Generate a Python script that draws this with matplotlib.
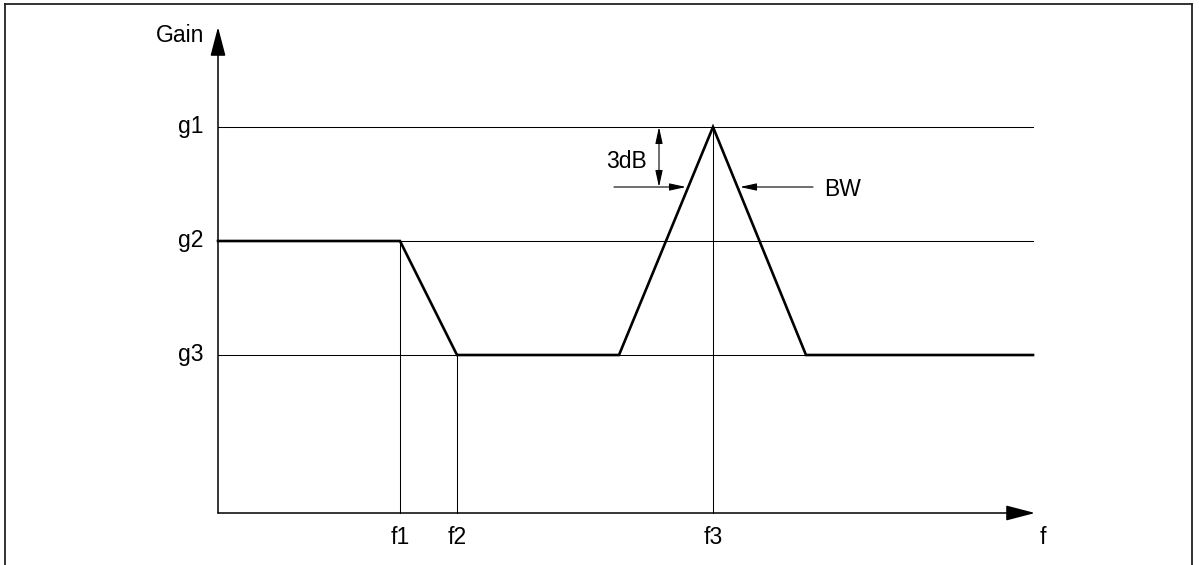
import matplotlib
matplotlib.use("Agg")
import matplotlib.pyplot as plt
from matplotlib.lines import Line2D

plt.rcParams['font.family'] = ['Liberation Sans', 'DejaVu Sans']

# gain levels (axis units)
gain_names = ['g1', 'g2', 'g3']
gain_vals = [3.86, 2.72, 1.58]

# frequency marks (axis units)
freq_names = ['f1', 'f2', 'f3']
freq_vals = [18.2, 23.9, 49.5]
freq_tops = [2.72, 1.58, 3.86]

# response curve breakpoints
curve_f = [0.0, 18.2, 23.9, 40.1, 49.5, 58.8, 81.5]
curve_g = [2.72, 2.72, 1.58, 1.58, 3.86, 1.58, 1.58]

# 3dB point / bandwidth
bw_level = 3.26
x_end = 81.5
fs = 16.5

fig = plt.figure(figsize=(11.99, 5.65), dpi=100)
ax = fig.add_axes([0, 0, 1, 1])
ax.set_xlim(-21.8, 98.1)
ax.set_ylim(-0.52, 5.13)
ax.axis('off')

# frame around the drawing (no bottom edge)
for xs, ys in [([5, 5], [0, 561]), ([5, 1192], [561, 561]), ([1192, 1192], [0, 561])]:
    fig.add_artist(Line2D([x / 1199 for x in xs], [y / 565 for y in ys],
                          color='#222222', lw=1.3))

# horizontal gain lines
for name, g in zip(gain_names, gain_vals):
    ax.plot([0, x_end], [g, g], color='black', lw=0.75)
    ax.text(-1.5, g, name, ha='right', va='center', fontsize=fs)

# vertical frequency lines, up to the curve
for name, f, top in zip(freq_names, freq_vals, freq_tops):
    ax.plot([f, f], [0, top], color='black', lw=0.75)
    ax.text(f, -0.24, name, ha='center', va='center', fontsize=fs)

# response curve
ax.plot(curve_f, curve_g, color='black', lw=1.9, solid_joinstyle='miter')

# axes with arrows
big = dict(arrowstyle='-|>,head_length=1.8,head_width=0.47', mutation_scale=10,
           lw=1.1, color='black', shrinkA=0, shrinkB=0)
ax.annotate('', xy=(0, 4.86), xytext=(0, 0), arrowprops=big)
ax.annotate('', xy=(81.7, 0), xytext=(0, 0), arrowprops=big)
ax.text(-1.4, 4.78, 'Gain', ha='right', va='center', fontsize=fs)
ax.text(82.5, -0.24, 'f', ha='center', va='center', fontsize=fs)

# 3dB marker
small = dict(arrowstyle='<|-|>,head_length=1.0,head_width=0.22', mutation_scale=10,
             lw=0.8, color='black', shrinkA=0, shrinkB=0)
ax.annotate('', xy=(44.1, gain_vals[0]), xytext=(44.1, bw_level), arrowprops=small)
ax.text(40.8, 3.52, '3dB', ha='center', va='center', fontsize=fs)

# BW arrows
one = dict(arrowstyle='-|>,head_length=1.0,head_width=0.22', mutation_scale=10,
           lw=0.8, color='black', shrinkA=0, shrinkB=0)
ax.annotate('', xy=(46.8, bw_level), xytext=(39.6, bw_level), arrowprops=one)
ax.annotate('', xy=(52.2, bw_level), xytext=(59.5, bw_level), arrowprops=one)
ax.text(60.6, bw_level - 0.02, 'BW', ha='left', va='center', fontsize=fs)

fig.savefig('out.png', dpi=100, facecolor='white')
